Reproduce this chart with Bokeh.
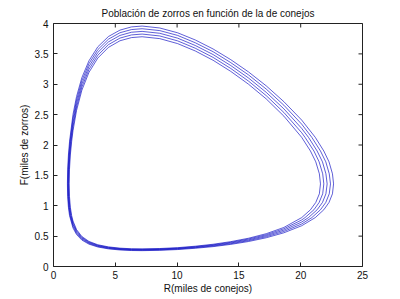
import math
from bokeh.plotting import figure
from bokeh.models import Range1d, FixedTicker
from bokeh.embed import file_html
from bokeh.resources import INLINE

title_text = "Población de zorros en función de la de conejos"
x_label = "R(miles de conejos)"
y_label = "F(miles de zorros)"

x_ticks = [0, 5, 10, 15, 20, 25]
y_ticks = [0, 0.5, 1, 1.5, 2, 2.5, 3, 3.5, 4]
y_tick_labels = ["0", "0.5", "1", "1.5", "2", "2.5", "3", "3.5", "4"]

# shared R values (miles de conejos) along the body of every loop
r_body = [1.577, 1.864, 2.294, 2.868, 3.585, 4.445, 5.378, 6.31, 7.17, 8.6,
          10.04, 11.47, 12.91, 14.34, 15.77, 17.21, 18.64]

# upper branch F values, innermost loop (1) to outermost loop (5)
f_top_1 = [2.234, 2.568, 2.901, 3.195, 3.431, 3.607, 3.716, 3.768, 3.782, 3.751, 3.669, 3.548, 3.395, 3.212, 3.002, 2.759, 2.475]
f_top_2 = [2.301, 2.625, 2.953, 3.243, 3.477, 3.652, 3.760, 3.812, 3.826, 3.795, 3.714, 3.593, 3.442, 3.260, 3.053, 2.813, 2.535]
f_top_3 = [2.368, 2.682, 3.005, 3.291, 3.523, 3.697, 3.804, 3.856, 3.870, 3.839, 3.759, 3.638, 3.489, 3.308, 3.104, 2.867, 2.595]
f_top_4 = [2.435, 2.739, 3.057, 3.339, 3.569, 3.742, 3.848, 3.900, 3.914, 3.883, 3.804, 3.683, 3.536, 3.356, 3.155, 2.921, 2.655]
f_top_5 = [2.502, 2.797, 3.108, 3.386, 3.616, 3.786, 3.891, 3.944, 3.958, 3.926, 3.847, 3.729, 3.581, 3.405, 3.204, 2.974, 2.713]

# lower branch F values
f_bot_1 = [0.749, 0.608, 0.494, 0.413, 0.358, 0.323, 0.302, 0.292, 0.290, 0.296, 0.310, 0.334, 0.366, 0.409, 0.465, 0.540, 0.643]
f_bot_2 = [0.720, 0.588, 0.479, 0.402, 0.349, 0.315, 0.295, 0.285, 0.283, 0.289, 0.302, 0.326, 0.356, 0.398, 0.452, 0.523, 0.621]
f_bot_3 = [0.692, 0.567, 0.465, 0.391, 0.340, 0.307, 0.287, 0.278, 0.276, 0.281, 0.295, 0.317, 0.347, 0.387, 0.438, 0.507, 0.599]
f_bot_4 = [0.663, 0.547, 0.450, 0.379, 0.330, 0.298, 0.280, 0.270, 0.268, 0.274, 0.287, 0.309, 0.337, 0.375, 0.425, 0.490, 0.577]
f_bot_5 = [0.634, 0.526, 0.435, 0.368, 0.321, 0.290, 0.272, 0.263, 0.261, 0.266, 0.279, 0.300, 0.327, 0.364, 0.411, 0.473, 0.555]

# left turn: shared F levels (bottom to top), R per loop
f_left = [0.838, 0.976, 1.156, 1.36, 1.591, 1.835, 2.064]
r_left_1 = [1.470, 1.362, 1.291, 1.266, 1.291, 1.362, 1.472]
r_left_2 = [1.424, 1.321, 1.252, 1.230, 1.253, 1.322, 1.427]
r_left_3 = [1.381, 1.281, 1.215, 1.194, 1.215, 1.282, 1.384]
r_left_4 = [1.338, 1.243, 1.179, 1.158, 1.179, 1.244, 1.341]
r_left_5 = [1.298, 1.207, 1.144, 1.126, 1.145, 1.207, 1.301]

# right turn: shared F levels (top to bottom), R per loop
f_right = [2.126, 1.901, 1.723, 1.526, 1.36, 1.197, 1.054, 0.934, 0.805]
r_right_1 = [20.08, 20.79, 21.22, 21.51, 21.60, 21.51, 21.22, 20.79, 20.08]
r_right_2 = [20.35, 21.07, 21.49, 21.78, 21.87, 21.78, 21.49, 21.07, 20.35]
r_right_3 = [20.63, 21.33, 21.76, 22.04, 22.14, 22.04, 21.76, 21.33, 20.63]
r_right_4 = [20.90, 21.60, 22.03, 22.31, 22.41, 22.31, 22.03, 21.60, 20.90]
r_right_5 = [21.18, 21.87, 22.29, 22.57, 22.66, 22.57, 22.29, 21.87, 21.18]

# extra point at R = 20.08 for loops 2..5
r_turn = 20.08
f_turn_top = [None, 2.202, 2.273, 2.343, 2.410]
f_turn_bot = [None, 0.766, 0.732, 0.700, 0.671]

f_tops = [f_top_1, f_top_2, f_top_3, f_top_4, f_top_5]
f_bots = [f_bot_1, f_bot_2, f_bot_3, f_bot_4, f_bot_5]
r_lefts = [r_left_1, r_left_2, r_left_3, r_left_4, r_left_5]
r_rights = [r_right_1, r_right_2, r_right_3, r_right_4, r_right_5]


def build_loop(k):
    rs, fs = [], []
    for i in range(3, 7):
        rs.append(r_lefts[k][i]); fs.append(f_left[i])
    rs += r_body; fs += f_tops[k]
    if f_turn_top[k] is not None:
        rs.append(r_turn); fs.append(f_turn_top[k])
    rs += r_rights[k]; fs += f_right
    if f_turn_bot[k] is not None:
        rs.append(r_turn); fs.append(f_turn_bot[k])
    rs += r_body[::-1]; fs += f_bots[k][::-1]
    for i in range(0, 4):
        rs.append(r_lefts[k][i]); fs.append(f_left[i])
    return rs, fs


FONT = "Liberation Sans"
TXT = "#111111"
AX = "#222222"

p = figure(width=400, height=299, x_range=Range1d(0, 25), y_range=Range1d(0, 4),
           output_backend="svg", toolbar_location=None,
           min_border_left=53, min_border_right=38, min_border_top=23, min_border_bottom=33,
           background_fill_color="white", border_fill_color="white")

p.title.text = title_text
p.title.align = "center"
p.title.text_font = FONT
p.title.text_font_size = "10px"
p.title.text_font_style = "normal"
p.title.text_color = TXT

p.grid.visible = False
p.outline_line_color = AX
p.outline_line_width = 1

for k in range(5):
    rs, fs = build_loop(k)
    p.line(rs, fs, line_color="#0000c0", line_width=0.7, line_alpha=0.9)

# inward ticks on the top and right edges of the box (clipped to the frame)
p.scatter(x=x_ticks, y=[y_ticks[-1]] * len(x_ticks), marker="dash", size=8,
          angle=math.pi / 2, line_color=AX, line_width=1)
p.scatter(x=[x_ticks[-1]] * len(y_ticks), y=y_ticks, marker="dash", size=8,
          line_color=AX, line_width=1)

for ax in (p.xaxis[0], p.yaxis[0]):
    ax.axis_line_color = None
    ax.major_tick_in = 4
    ax.major_tick_out = 0
    ax.minor_tick_line_color = None
    ax.major_tick_line_color = AX
    ax.major_label_text_font = FONT
    ax.major_label_text_font_size = "10px"
    ax.major_label_text_color = TXT
    ax.axis_label_text_font = FONT
    ax.axis_label_text_font_size = "10px"
    ax.axis_label_text_font_style = "normal"
    ax.axis_label_text_color = TXT

p.xaxis[0].ticker = FixedTicker(ticks=x_ticks)
p.yaxis[0].ticker = FixedTicker(ticks=y_ticks)
p.yaxis[0].major_label_overrides = {t: s for t, s in zip(y_ticks, y_tick_labels)}
p.xaxis[0].axis_label = x_label
p.yaxis[0].axis_label = y_label
p.xaxis[0].major_label_standoff = 4
p.yaxis[0].major_label_standoff = 5
p.xaxis[0].axis_label_standoff = 1
p.yaxis[0].axis_label_standoff = 2

open("out.html", "w").write(file_html(p, INLINE))
